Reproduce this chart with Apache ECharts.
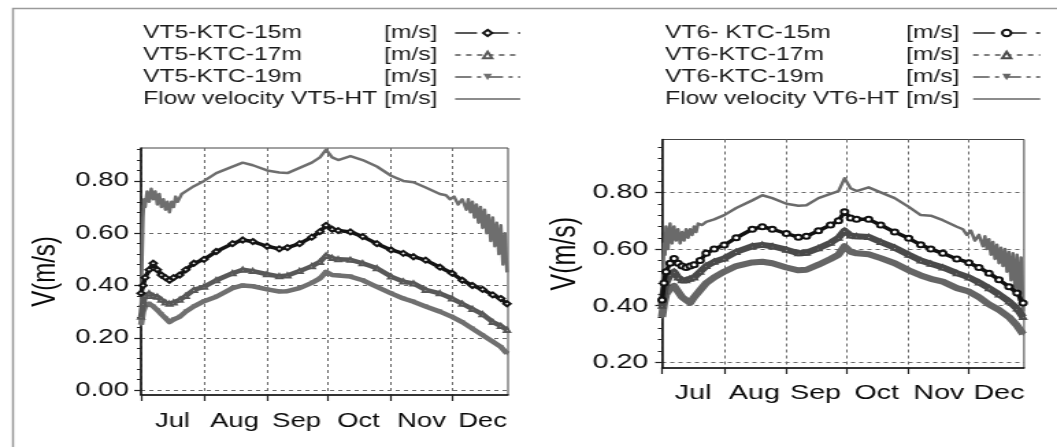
<!DOCTYPE html>
<html>
<head>
<meta charset="utf-8">
<script src="https://cdn.jsdelivr.net/npm/echarts@6/dist/echarts.min.js"></script>
<style>
  html, body { margin: 0; padding: 0; background: #fff; overflow: hidden; }
  #wrap { width: 1057px; height: 447px; overflow: hidden; }
  /* the figure is laid out on a narrower canvas and widened to the page */
  #chart { width: 772px; height: 447px; transform: scaleX(1.3692); transform-origin: 0 0; }
</style>
</head>
<body>
<div id="wrap"><div id="chart"></div></div>
<script>
// Days counted from 1 July (probe series)
const days = [0, 1, 2, 4, 6, 8, 10, 12, 14, 16, 19, 22, 26, 31, 37, 45, 50, 55, 62, 68, 72, 78, 84, 88, 91, 94, 97, 103, 109, 116, 123, 129, 134, 140, 147, 153, 158, 163, 168, 173, 177, 180];
// Days counted from 1 July (flow records, denser where they fluctuate)
const flowDays = [0, 0.5, 1, 1.5, 2, 3, 4, 5, 6, 7, 8, 9, 10, 11, 12, 13, 14, 15, 16, 17, 18, 20, 22, 26, 31, 37, 45, 50, 55, 62, 68, 72, 78, 84, 88, 91, 94, 97, 103, 109, 116, 123, 129, 134, 140, 147, 150, 152, 154, 156, 158, 160, 161, 162, 163, 164, 165, 166, 167, 168, 169, 170, 171, 172, 173, 174, 175, 176, 177, 178, 179, 180];

const monthNames = ['Jul', 'Aug', 'Sep', 'Oct', 'Nov', 'Dec'];
const monthStarts = [0, 31, 62, 92, 123, 153];
const monthMids = [15.5, 46, 76.5, 107, 138, 168];

const yLabelsVT5 = [0.0, 0.2, 0.4, 0.6, 0.8];
const yMinorVT5 = [0, 0.04, 0.08, 0.12, 0.16, 0.2, 0.24, 0.28, 0.32, 0.36, 0.4, 0.44, 0.48, 0.52, 0.56, 0.6, 0.64, 0.68, 0.72, 0.76, 0.8, 0.84, 0.88, 0.92];
const yLabelsVT6 = [0.2, 0.4, 0.6, 0.8];
const yMinorVT6 = [0.2, 0.24, 0.28, 0.32, 0.36, 0.4, 0.44, 0.48, 0.52, 0.56, 0.6, 0.64, 0.68, 0.72, 0.76, 0.8, 0.84, 0.88, 0.92, 0.96];

// VT5 station, velocities in m/s
const vt5Flow = [0.30, 0.50, 0.66, 0.73, 0.70, 0.76, 0.72, 0.77, 0.73, 0.76, 0.71, 0.75, 0.70, 0.73, 0.69, 0.72, 0.68, 0.72, 0.70, 0.74, 0.72, 0.75, 0.76, 0.78, 0.80, 0.83, 0.855, 0.87, 0.86, 0.84, 0.832, 0.83, 0.85, 0.87, 0.89, 0.92, 0.89, 0.88, 0.895, 0.88, 0.855, 0.82, 0.80, 0.795, 0.775, 0.75, 0.745, 0.73, 0.74, 0.71, 0.73, 0.69, 0.73, 0.68, 0.72, 0.66, 0.71, 0.64, 0.70, 0.62, 0.69, 0.60, 0.67, 0.57, 0.66, 0.55, 0.64, 0.52, 0.63, 0.48, 0.60, 0.45];
const vt5K15 = [0.37, 0.40, 0.43, 0.46, 0.485, 0.46, 0.44, 0.43, 0.42, 0.43, 0.44, 0.46, 0.485, 0.50, 0.53, 0.56, 0.574, 0.568, 0.55, 0.54, 0.545, 0.56, 0.585, 0.606, 0.63, 0.615, 0.61, 0.605, 0.587, 0.56, 0.536, 0.523, 0.51, 0.497, 0.47, 0.447, 0.42, 0.40, 0.385, 0.364, 0.35, 0.33];
const vt5K17 = [0.28, 0.33, 0.36, 0.37, 0.36, 0.357, 0.345, 0.335, 0.33, 0.335, 0.345, 0.36, 0.383, 0.395, 0.42, 0.447, 0.46, 0.455, 0.443, 0.435, 0.438, 0.455, 0.474, 0.49, 0.515, 0.505, 0.50, 0.498, 0.485, 0.466, 0.434, 0.415, 0.408, 0.383, 0.37, 0.35, 0.33, 0.31, 0.29, 0.26, 0.245, 0.23];
const vt5K19 = [0.25, 0.30, 0.32, 0.33, 0.32, 0.306, 0.29, 0.275, 0.26, 0.27, 0.28, 0.30, 0.32, 0.34, 0.357, 0.39, 0.40, 0.397, 0.385, 0.377, 0.378, 0.39, 0.41, 0.427, 0.452, 0.44, 0.438, 0.434, 0.42, 0.395, 0.37, 0.35, 0.338, 0.32, 0.30, 0.28, 0.26, 0.235, 0.21, 0.185, 0.165, 0.14];

// VT6 station, velocities in m/s
const vt6Flow = [0.42, 0.52, 0.62, 0.58, 0.68, 0.60, 0.69, 0.62, 0.68, 0.63, 0.67, 0.62, 0.66, 0.63, 0.67, 0.64, 0.67, 0.65, 0.68, 0.66, 0.69, 0.685, 0.696, 0.705, 0.72, 0.745, 0.772, 0.79, 0.78, 0.76, 0.753, 0.755, 0.78, 0.795, 0.805, 0.85, 0.815, 0.805, 0.818, 0.80, 0.78, 0.749, 0.72, 0.718, 0.702, 0.679, 0.67, 0.65, 0.665, 0.63, 0.65, 0.61, 0.645, 0.60, 0.635, 0.58, 0.625, 0.565, 0.615, 0.55, 0.605, 0.54, 0.60, 0.52, 0.59, 0.49, 0.585, 0.46, 0.58, 0.42, 0.57, 0.38];
const vt6K15 = [0.42, 0.48, 0.52, 0.55, 0.567, 0.55, 0.54, 0.535, 0.54, 0.545, 0.56, 0.585, 0.60, 0.614, 0.64, 0.67, 0.679, 0.67, 0.655, 0.642, 0.645, 0.665, 0.685, 0.70, 0.732, 0.71, 0.705, 0.705, 0.685, 0.66, 0.638, 0.615, 0.60, 0.585, 0.565, 0.552, 0.535, 0.515, 0.492, 0.467, 0.445, 0.41];
const vt6K17 = [0.40, 0.45, 0.48, 0.51, 0.52, 0.50, 0.49, 0.49, 0.495, 0.50, 0.52, 0.54, 0.555, 0.567, 0.59, 0.61, 0.615, 0.61, 0.598, 0.585, 0.587, 0.603, 0.622, 0.64, 0.665, 0.648, 0.645, 0.643, 0.625, 0.605, 0.58, 0.56, 0.548, 0.535, 0.515, 0.50, 0.482, 0.462, 0.44, 0.415, 0.39, 0.36];
const vt6K19 = [0.36, 0.41, 0.44, 0.46, 0.47, 0.45, 0.43, 0.42, 0.41, 0.43, 0.455, 0.48, 0.50, 0.52, 0.54, 0.553, 0.555, 0.55, 0.535, 0.525, 0.527, 0.545, 0.565, 0.58, 0.61, 0.59, 0.585, 0.582, 0.568, 0.55, 0.525, 0.507, 0.495, 0.485, 0.462, 0.45, 0.43, 0.405, 0.385, 0.36, 0.33, 0.30];

const FONT = "'Liberation Sans', Arial, Helvetica, sans-serif";
const pair = (xs, vals) => xs.map((d, i) => [d, vals[i]]);

function monthAxis(gridIndex, fontSize, margin) {
  return {
    type: 'value', gridIndex, min: 0, max: 180.5,
    axisLine: { show: true, onZero: false, lineStyle: { color: '#111', width: 1.5 } },
    axisTick: { show: true, length: 6, customValues: monthStarts, lineStyle: { color: '#222', width: 1.2 } },
    axisLabel: {
      customValues: monthMids, fontSize, fontFamily: FONT, color: '#0a0a0a', margin,
      formatter: v => {
        let k = 0;
        monthMids.forEach((m, i) => { if (Math.abs(m - v) < Math.abs(monthMids[k] - v)) k = i; });
        return monthNames[k];
      }
    },
    splitLine: { show: true, lineStyle: { color: '#6a6a6a', type: [3, 3], width: 1 } }
  };
}

function valueAxis(gridIndex, min, max, labels, fontSize, margin, nameGap, nameSize) {
  return {
    type: 'value', gridIndex, min, max,
    name: 'V(m/s)', nameLocation: 'middle', nameGap,
    nameTextStyle: { fontSize: nameSize, fontFamily: FONT, color: '#0a0a0a' },
    axisLine: { show: true, onZero: false, lineStyle: { color: '#111', width: 1.5 } },
    axisTick: { show: true, length: 5, customValues: labels, lineStyle: { color: '#222', width: 1.2 } },
    axisLabel: { customValues: labels, formatter: v => v.toFixed(2), fontSize, fontFamily: FONT, color: '#0a0a0a', margin },
    splitLine: { show: true, lineStyle: { color: '#6a6a6a', type: [3, 3], width: 1 } }
  };
}

function minorAxis(gridIndex, min, max, ticks) {
  return {
    type: 'value', gridIndex, min, max, position: 'left',
    axisLine: { show: false },
    axisTick: { show: true, length: 3, customValues: ticks, lineStyle: { color: '#222', width: 1 } },
    axisLabel: { show: false },
    splitLine: { show: false }
  };
}

function velSeries(name, data, xi, yi, color, width, symbol, size, rotate, z) {
  return {
    type: 'line', name, xAxisIndex: xi, yAxisIndex: yi, data,
    symbol, symbolSize: size, symbolRotate: rotate || 0, showSymbol: symbol !== 'none', showAllSymbol: true,
    lineStyle: { color, width, join: 'round' }, itemStyle: { color, borderWidth: 1 },
    z, animation: false
  };
}

function legendBlock(left, iconWidth, nameWidth, unitWidth, entries) {
  const txt = { fontSize: 18, fontFamily: FONT, color: '#1a1a1a', lineHeight: 22, align: 'left' };
  return {
    orient: 'vertical', align: 'right', left, top: 22, padding: 0, itemGap: 0,
    itemWidth: iconWidth, itemHeight: 8, selectedMode: false,
    data: entries.map(e => ({ name: e.name, lineStyle: e.line, itemStyle: e.item })),
    formatter: n => `{n|${n}}{u|[m/s]}`,
    textStyle: {
      fontFamily: FONT, fontSize: 18, color: '#1a1a1a', lineHeight: 22,
      rich: {
        n: Object.assign({ width: nameWidth }, txt),
        u: Object.assign({ width: unitWidth }, txt)
      }
    }
  };
}

const chart = echarts.init(document.getElementById('chart'), null, { renderer: 'canvas' });

chart.setOption({
  backgroundColor: '#fff',
  animation: false,
  graphic: [{
    type: 'rect', left: 7, top: 6, silent: true,
    shape: { x: 0, y: 0, width: 900, height: 500 },
    style: { fill: 'none', stroke: '#9a9a9a', lineWidth: 1.5 }
  }],
  legend: [
    legendBlock(104.4, 47.5, 176, 47, [
      { name: 'VT5-KTC-15m', line: { type: [16, 7], width: 1.3, color: '#222' } },
      { name: 'VT5-KTC-17m', line: { type: [4, 4], width: 1.3, color: '#555' } },
      { name: 'VT5-KTC-19m', line: { type: [12, 4, 3, 4], width: 1.3, color: '#555' } },
      { name: 'Flow velocity VT5-HT', line: { type: 'solid', width: 1.3, color: '#666' }, item: { opacity: 0 } }
    ]),
    legendBlock(485.7, 49, 176, 44, [
      { name: 'VT6- KTC-15m', line: { type: [16, 7], width: 1.3, color: '#222' } },
      { name: 'VT6-KTC-17m', line: { type: [4, 4], width: 1.3, color: '#555' } },
      { name: 'VT6-KTC-19m', line: { type: [12, 4, 3, 4], width: 1.3, color: '#555' } },
      { name: 'Flow velocity VT6-HT', line: { type: 'solid', width: 1.3, color: '#666' }, item: { opacity: 0 } }
    ])
  ],
  grid: [
    { left: 103, top: 148, width: 268, height: 247, show: true, borderColor: '#444', borderWidth: 1, backgroundColor: 'transparent' },
    { left: 483.5, top: 139.5, width: 264.4, height: 228.5, show: true, borderColor: '#444', borderWidth: 1, backgroundColor: 'transparent' }
  ],
  xAxis: [monthAxis(0, 20, 16), monthAxis(1, 21, 15)],
  yAxis: [
    valueAxis(0, -0.019, 0.926, yLabelsVT5, 20, 9, 58, 24),
    minorAxis(0, -0.019, 0.926, yMinorVT5),
    valueAxis(1, 0.18, 0.987, yLabelsVT6, 21, 10, 58, 25),
    minorAxis(1, 0.18, 0.987, yMinorVT6)
  ],
  series: [
    velSeries('Flow velocity VT5-HT', pair(flowDays, vt5Flow), 0, 0, '#6e6e6e', 2.5, 'none', 0, 0, 2),
    velSeries('VT5-KTC-19m', pair(days, vt5K19), 0, 0, '#707070', 4.5, 'triangle', 4, 180, 3),
    velSeries('VT5-KTC-17m', pair(days, vt5K17), 0, 0, '#585858', 4.5, 'emptyTriangle', 4, 0, 4),
    velSeries('VT5-KTC-15m', pair(days, vt5K15), 0, 0, '#141414', 3.5, 'emptyDiamond', 5, 0, 5),
    velSeries('Flow velocity VT6-HT', pair(flowDays, vt6Flow), 1, 2, '#6a6a6a', 2.5, 'none', 0, 0, 2),
    velSeries('VT6-KTC-19m', pair(days, vt6K19), 1, 2, '#656565', 6, 'triangle', 4, 180, 3),
    velSeries('VT6-KTC-17m', pair(days, vt6K17), 1, 2, '#4a4a4a', 6, 'emptyTriangle', 4, 0, 4),
    velSeries('VT6- KTC-15m', pair(days, vt6K15), 1, 2, '#111', 3.5, 'emptyCircle', 5, 0, 5)
  ]
});
</script>
</body>
</html>
